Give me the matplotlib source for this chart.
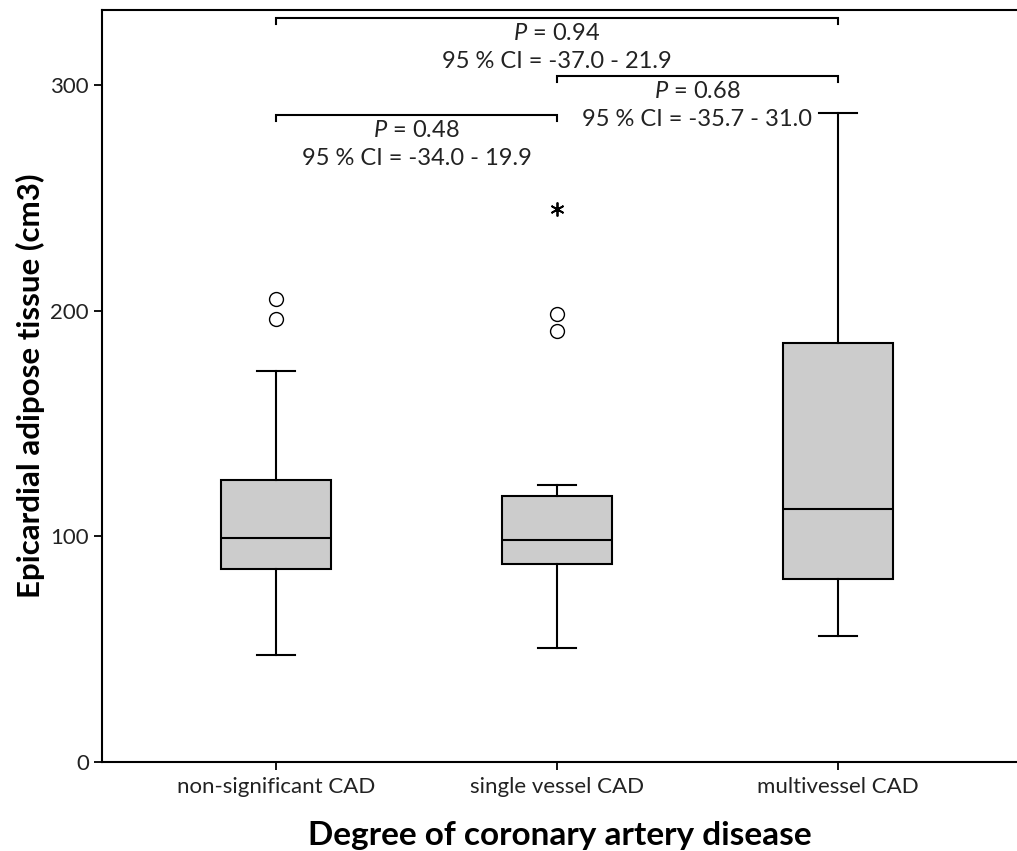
import matplotlib
matplotlib.use("Agg")
from matplotlib import pyplot as plt

plt.rcParams['font.family'] = ['Lato', 'DejaVu Sans']
plt.rcParams['mathtext.fontset'] = 'custom'
plt.rcParams['mathtext.rm'] = 'Lato'
plt.rcParams['mathtext.it'] = 'Lato:italic'

# group summaries (cm3)
groups = ['non-significant CAD', 'single vessel CAD', 'multivessel CAD']
q1 = [85.5, 87.7, 80.9]
med = [99.3, 98.2, 111.9]
q3 = [124.9, 117.9, 185.8]
whislo = [47.4, 50.4, 55.8]
whishi = [173.1, 122.8, 287.6]
outliers = [[205.0, 196.5], [198.6, 191.0], []]
extremes = [[], [244.9], []]

# pairwise comparisons: (left group, right group), bracket height, P, CI
pairs = [(0, 2), (1, 2), (0, 1)]
bracket_y = [329.5, 304.0, 286.7]
p_values = ['0.94', '0.68', '0.48']
ci_text = ['-37.0 - 21.9', '-35.7 - 31.0', '-34.0 - 19.9']

fig = plt.figure(figsize=(10.17, 8.51), dpi=100)
ax = fig.add_axes([102 / 1017, 1 - 762 / 851, 915 / 1017, 752 / 851])

stats = []
for i, name in enumerate(groups):
    stats.append(dict(label=name, q1=q1[i], med=med[i], q3=q3[i],
                      whislo=whislo[i], whishi=whishi[i], fliers=outliers[i]))

ax.bxp(stats, positions=range(len(groups)), widths=0.39, patch_artist=True,
       showfliers=True,
       boxprops=dict(facecolor='#cccccc', edgecolor='black', linewidth=1.5),
       medianprops=dict(color='black', linewidth=1.5),
       whiskerprops=dict(color='black', linewidth=1.5),
       capprops=dict(color='black', linewidth=1.5),
       capwidths=0.135,
       flierprops=dict(marker='o', markerfacecolor='white', markeredgecolor='black',
                       markersize=10, markeredgewidth=1.0))

# extreme values drawn as asterisks
for i, vals in enumerate(extremes):
    if vals:
        ax.plot([i] * len(vals), vals, linestyle='none', marker=(6, 2, 0),
                markersize=10, markeredgewidth=1.3, color='black')

tick = 2.6
for (a, b), y, p, ci in zip(pairs, bracket_y, p_values, ci_text):
    ax.plot([a, a, b, b], [y - tick, y, y, y - tick], color='black', lw=1.5,
            solid_joinstyle='miter')
    xc = (a + b) / 2
    ax.text(xc, y - 6.8, '$P$ = ' + p, ha='center', va='center', fontsize=17,
            color='#222222')
    ax.text(xc, y - 19.2, '95 % CI = ' + ci, ha='center', va='center',
            fontsize=17, color='#222222')

ax.set_xlim(-0.619, 2.637)
ax.set_ylim(0, 333.2)
ax.set_yticks([0, 100, 200, 300])
ax.tick_params(axis='both', labelsize=16, width=1.3, length=6, colors='black',
               labelcolor='#222222')
ax.tick_params(axis='x', pad=5)
ax.spines['right'].set_visible(False)
for s in ['left', 'bottom', 'top']:
    ax.spines[s].set_linewidth(1.5)

ax.set_xlabel('Degree of coronary artery disease', fontsize=24, fontweight='bold',
              labelpad=17)
ax.set_ylabel('Epicardial adipose tissue (cm3)', fontsize=22.5, fontweight='bold',
              labelpad=4)

fig.savefig('out.png', dpi=100)
